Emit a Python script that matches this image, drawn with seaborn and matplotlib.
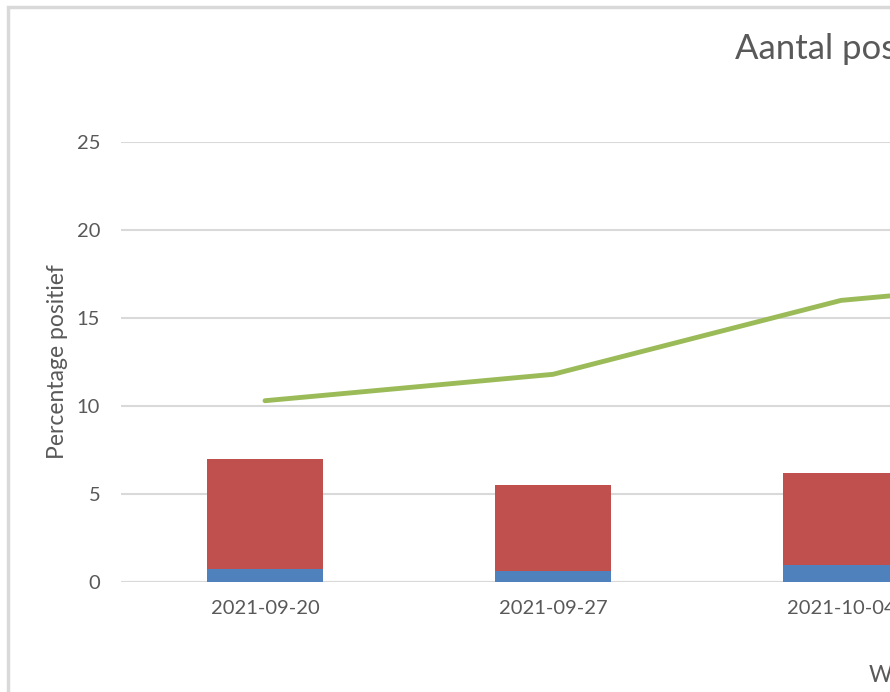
import numpy as np
import pandas as pd
import matplotlib
matplotlib.use('Agg')
import matplotlib.pyplot as plt
from matplotlib.patches import Rectangle
import seaborn as sns

# Data (4th week is outside the visible crop)
weeks = ['2021-09-20', '2021-09-27', '2021-10-04', '2021-10-11']
blue_part = [0.75, 0.62, 0.95, 0.9]
red_part = [6.25, 4.88, 5.25, 5.6]
pct_positief = [10.3, 11.8, 16.0, 17.5]

df = pd.DataFrame({'Week': weeks, 'blauw': blue_part, 'rood': red_part,
                   'pct': pct_positief})
df['totaal'] = df['blauw'] + df['rood']

sns.set_style('white')
plt.rcParams['font.family'] = ['Lato', 'DejaVu Sans']

W, H = 890, 692
fig = plt.figure(figsize=(W / 100, H / 100), dpi=100)

# plot area: left edge x=121px, top y=142px, bottom y=582px, category width 288px
n = len(weeks)
left_px, top_px, bot_px, cat_px = 121, 142, 582, 288
ax = fig.add_axes([left_px / W, (H - bot_px) / H, n * cat_px / W, (bot_px - top_px) / H])

grey_text = '#595959'
grid_col = '#D9D9D9'

# stacked bars: total in red, lower part in blue on top of it
sns.barplot(data=df, x='Week', y='totaal', color='#C0504D', width=0.4,
            saturation=1, linewidth=0, edgecolor='none', ax=ax, zorder=2)
sns.barplot(data=df, x='Week', y='blauw', color='#4F81BD', width=0.4,
            saturation=1, linewidth=0, edgecolor='none', ax=ax, zorder=3)
sns.lineplot(x=np.arange(n), y=df['pct'], color='#9BBB59', linewidth=3.5,
             ax=ax, zorder=4)

ax.set_xlim(-0.5, n - 0.5)
ax.set_ylim(0, 25)
ax.set_yticks([0, 5, 10, 15, 20, 25])
ax.yaxis.grid(True, color=grid_col, linewidth=1.5, zorder=0)
ax.set_axisbelow(True)
for s in ax.spines.values():
    s.set_visible(False)
ax.axhline(0, color=grid_col, linewidth=1.5, zorder=1)
ax.tick_params(axis='both', length=0, labelsize=14.5, colors=grey_text)
ax.tick_params(axis='y', pad=15)
ax.tick_params(axis='x', pad=13)
ax.set_xlabel('')
ax.set_ylabel('Percentage positief', fontsize=16.5, color=grey_text, labelpad=6)

# chart title and axis title (centred on the full chart, cropped on the right)
fig.text(735 / W, 1 - 49 / H, 'Aantal positieve testen per week', fontsize=25,
         color=grey_text, ha='left', va='center')
fig.text(869 / W, 1 - 676 / H, 'Week', fontsize=16.5, color=grey_text,
         ha='left', va='center')

# chart frame
fig.patches.append(Rectangle((7.5 / W, -0.1), 2, 1.1 - 6.5 / H,
                             transform=fig.transFigure, fill=False,
                             edgecolor=grid_col, linewidth=2.5))

fig.savefig('out.png', dpi=100)
